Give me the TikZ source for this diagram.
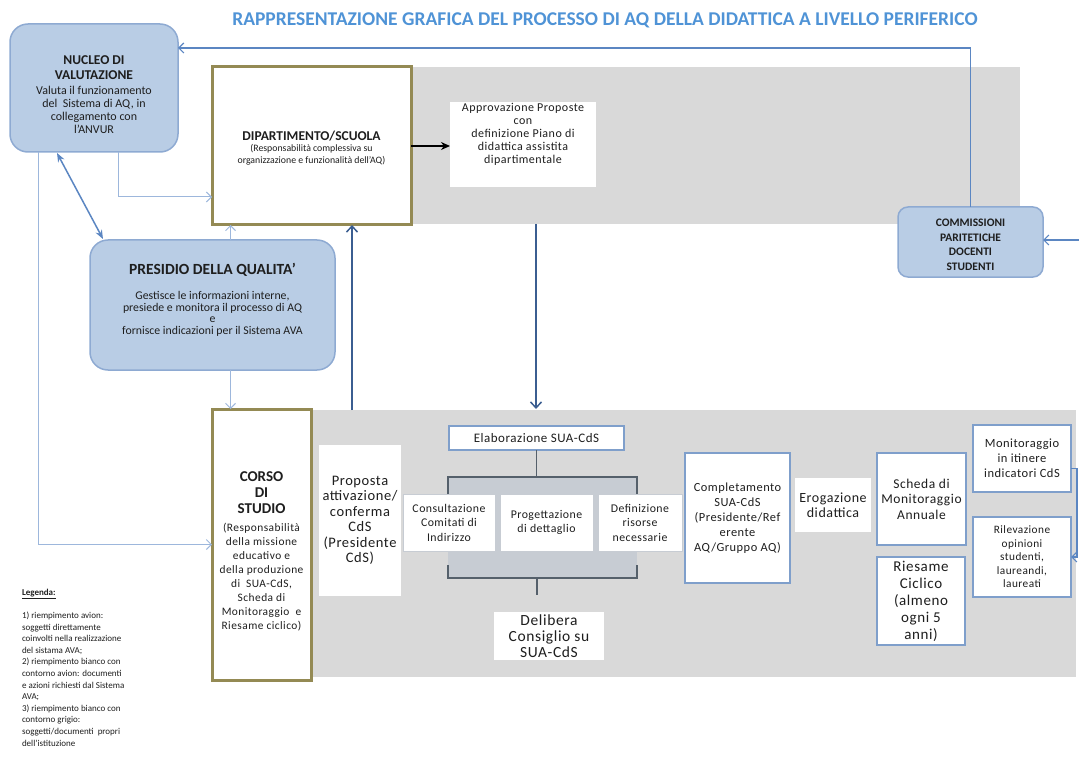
\documentclass[tikz,border=0pt]{standalone}
\usepackage{fontspec}
\setmainfont{Carlito}
\newfontfamily\wide{Carlito}[LetterSpace=4]
\usetikzlibrary{arrows.meta,calc}
\definecolor{nucfill}{HTML}{B9CDE5}
\definecolor{nucdraw}{HTML}{8EAAD2}
\definecolor{bordblue}{HTML}{7F9FCB}
\definecolor{bggray}{HTML}{D9D9D9}
\definecolor{olive}{HTML}{948A54}
\definecolor{lightarr}{HTML}{9DB7DC}
\definecolor{darkarr}{HTML}{3B5E91}
\definecolor{midarr}{HTML}{5B86C2}
\definecolor{titleblue}{HTML}{4F93D6}
\definecolor{brfill}{HTML}{C7CCD3}
\definecolor{brline}{HTML}{55606B}
\definecolor{txtgray}{HTML}{1E1E1E}
\newcommand\fs[2]{\fontsize{#1}{#2}\selectfont}
\newcommand\wfs[2]{\wide\fontsize{#1}{#2}\selectfont}
\begin{document}
\begin{tikzpicture}[x=1pt,y=-1pt,
  every node/.style={inner sep=0pt,outer sep=0pt,text=txtgray},
  box/.style={rectangle,anchor=north west,align=center},
  bluebox/.style={box,rounded corners=18pt,fill=nucfill,draw=nucdraw,line width=1.5pt},
  olivebox/.style={box,fill=white,draw=olive,line width=3pt},
  bordbox/.style={box,fill=white,draw=bordblue,line width=2.5pt},
  plainbox/.style={box,fill=white},
  graybox/.style={box,fill=white,draw=brfill,line width=1pt},
  txt/.style={align=center},
  larrow/.style={draw=lightarr,line width=1pt,-{Straight Barb[length=5pt,width=10pt]}},
  marrow/.style={draw=midarr,line width=1.2pt,-{Straight Barb[length=5pt,width=10pt]}},
  darrow/.style={draw=darkarr,line width=1.5pt,-{Straight Barb[length=6pt,width=11pt]}},
  dblarrow/.style={draw=midarr,line width=1.5pt,{Stealth[length=9pt,width=7pt]}-{Stealth[length=9pt,width=7pt]}},
  blkarrow/.style={draw=black,line width=1.5pt,-{Stealth[length=9pt,width=8pt]}},
  brk/.style={draw=brline,line width=1.3pt}
]
\useasboundingbox (0,0) rectangle (1079,770);

% backgrounds
\fill[bggray] (411,67) rectangle (1020,224);
\fill[bggray] (311,410) rectangle (1076,677);

% title
\node[text=titleblue,font=\fs{19.5}{22}\bfseries] (title) at (605,20) {RAPPRESENTAZIONE GRAFICA DEL PROCESSO DI AQ DELLA DIDATTICA A LIVELLO PERIFERICO};

% upper boxes
\node[bluebox,minimum width=168pt,minimum height=128pt] (nucleo) at (10,24) {};
\node[txt,font=\fs{13.5}{15}\bfseries] (nucT) at (94,68) {NUCLEO DI\\VALUTAZIONE};
\node[txt,font=\fs{12}{13}] (nucB) at (94,110) {Valuta il funzionamento\\del \ Sistema di AQ, in\\collegamento con\\l’ANVUR};

\node[olivebox,minimum width=199pt,minimum height=158pt] (dip) at (212,67) {};
\node[txt,font=\fs{13.5}{15}\bfseries] (dipT) at (311.5,136) {DIPARTIMENTO/SCUOLA};
\node[txt,font=\fs{9.8}{11.5}] (dipS) at (311.5,155) {(Responsabilità complessiva su\\organizzazione e funzionalità dell’AQ)};

\node[plainbox,minimum width=146pt,minimum height=85pt] (appr) at (450,102) {};
\node[txt,font=\wfs{12}{13}] (apprT) at (523,134) {Approvazione Proposte\\con\\definizione Piano di\\didattica assistita\\dipartimentale};

\node[bluebox,minimum width=245pt,minimum height=130pt] (presidio) at (90,240) {};
\node[txt,font=\fs{15.5}{17}\bfseries] (presT) at (212.5,270) {PRESIDIO DELLA QUALITA’};
\node[txt,font=\fs{11.8}{11.5}] (presB) at (212.5,314) {Gestisce le informazioni interne,\\presiede e monitora il processo di AQ\\e\\fornisce indicazioni per il Sistema AVA};

\node[bluebox,rounded corners=10pt,minimum width=145pt,minimum height=70pt] (comm) at (898,207) {};
\node[txt,font=\fs{11.5}{14.5}\bfseries] (commT) at (970.5,245) {COMMISSIONI\\PARITETICHE\\DOCENTI\\STUDENTI};

% lower boxes
\node[olivebox,minimum width=99pt,minimum height=271pt] (corso) at (212,409) {};
\node[txt,font=\fs{15}{16}\bfseries] (corsoT) at (261.5,493) {CORSO\\DI\\STUDIO};
\node[txt,font=\wfs{11.4}{14}] (corsoB) at (261.5,577) {(Responsabilità\\della missione\\educativo e\\della produzione\\di \ SUA-CdS,\\Scheda di\\Monitoraggio \ e\\Riesame ciclico)};

\node[plainbox,minimum width=82pt,minimum height=151pt,font=\wfs{14.5}{15.5}] (prop) at (319,445) {Proposta\\attivazione/\\conferma\\CdS\\(Presidente\\CdS)};

\fill[brfill] (448,477) rectangle (637,578);
\node[bordbox,line width=2pt,minimum width=175pt,minimum height=24pt,font=\wfs{13}{14}] (elab) at (449,426) {Elaborazione SUA-CdS};
\node[graybox,minimum width=92pt,minimum height=57pt,font=\wfs{11.8}{14.5}] (cons) at (403,494) {Consultazione\\Comitati di\\Indirizzo};
\node[graybox,minimum width=93pt,minimum height=57pt,font=\wfs{11.8}{14.5}] (prog) at (500,494) {Progettazione\\di dettaglio};
\node[graybox,minimum width=84pt,minimum height=57pt,font=\wfs{11.8}{14.5}] (defi) at (598,494) {Definizione\\risorse\\necessarie};
\draw[brk] (448,494) -- (448,477) -- (637,477) -- (637,494);
\draw[brk] (elab.south) -- (elab.south |- 0,477);
\draw[brk] (448,565) -- (448,578) -- (637,578) -- (637,565);
\coordinate (brlow) at (537,578);
\coordinate (brstem) at (537,595);
\draw[brk] (brlow) -- (brstem);

\node[plainbox,minimum width=110pt,minimum height=48pt,font=\wfs{15.5}{16}] (delib) at (494,612) {Delibera\\Consiglio su\\SUA-CdS};

\node[bordbox,minimum width=105pt,minimum height=130pt,font=\wfs{12.4}{15}] (compl) at (685,453) {Completamento\\SUA-CdS\\(Presidente/Ref\\erente\\AQ/Gruppo AQ)};
\node[plainbox,minimum width=76pt,minimum height=54pt,font=\wfs{14}{15}] (erog) at (795,478) {Erogazione\\didattica};
\node[bordbox,minimum width=89pt,minimum height=92pt,font=\wfs{13.5}{15.5}] (scheda) at (877,453) {Scheda di\\Monitoraggio\\Annuale};
\node[bordbox,minimum width=88pt,minimum height=88pt,font=\wfs{15}{17}] (ries) at (877,557) {Riesame\\Ciclico\\(almeno\\ogni 5\\anni)};
\node[bordbox,minimum width=98pt,minimum height=67pt,font=\wfs{12.5}{15}] (monit) at (973,425) {Monitoraggio\\in itinere\\indicatori CdS};
\node[bordbox,minimum width=98pt,minimum height=80pt,font=\wfs{11.3}{13.5}] (rilev) at (973,517) {Rilevazione\\opinioni\\studenti,\\laureandi,\\laureati};

% legend
\node[anchor=north west,align=left,font=\fs{9}{11.6}] (legend) at (22,589) {\underline{\textbf{Legenda:}}\\[11.6pt]
1) riempimento avion:\\soggetti direttamente\\coinvolti nella realizzazione\\del sistama AVA;\\
2) riempimento bianco con\\contorno avion: documenti\\e azioni richiesti dal Sistema\\AVA;\\
3) riempimento bianco con\\contorno grigio:\\soggetti/documenti \ propri\\dell’istituzione};

% connectors
\draw[marrow] (comm.north) |- ([yshift=40pt]nucleo.east);
\coordinate (rightin) at (1079,240);
\draw[marrow] (rightin) -- (rightin -| comm.east);
\draw[marrow] ([yshift=-10pt]monit.east) -- ++(6,0) |- (rilev.east);

\draw[larrow] ([xshift=24pt]nucleo.south) |- ([yshift=-51pt]dip.west);
\draw[larrow] ([xshift=-56pt]nucleo.south) |- (corso.west);
\draw[dblarrow] ([xshift=-37pt,yshift=-1pt]nucleo.south) -- ([xshift=-109.5pt,yshift=1pt]presidio.north);
\draw[larrow] ([xshift=18pt]presidio.north) -- ([xshift=18pt]presidio.north |- dip.south);
\draw[larrow] ([xshift=18pt]presidio.south) -- ([xshift=18pt]presidio.south |- corso.north);

\draw[blkarrow] (dip.east) -- (dip.east -| appr.west);

\coordinate (upstart) at (352,410);
\draw[darrow] (upstart) -- (upstart |- dip.south);
\coordinate (dnstart) at (536,224);
\coordinate (dnend) at (536,409);
\draw[darrow] (dnstart) -- (dnend);
\end{tikzpicture}
\end{document}
